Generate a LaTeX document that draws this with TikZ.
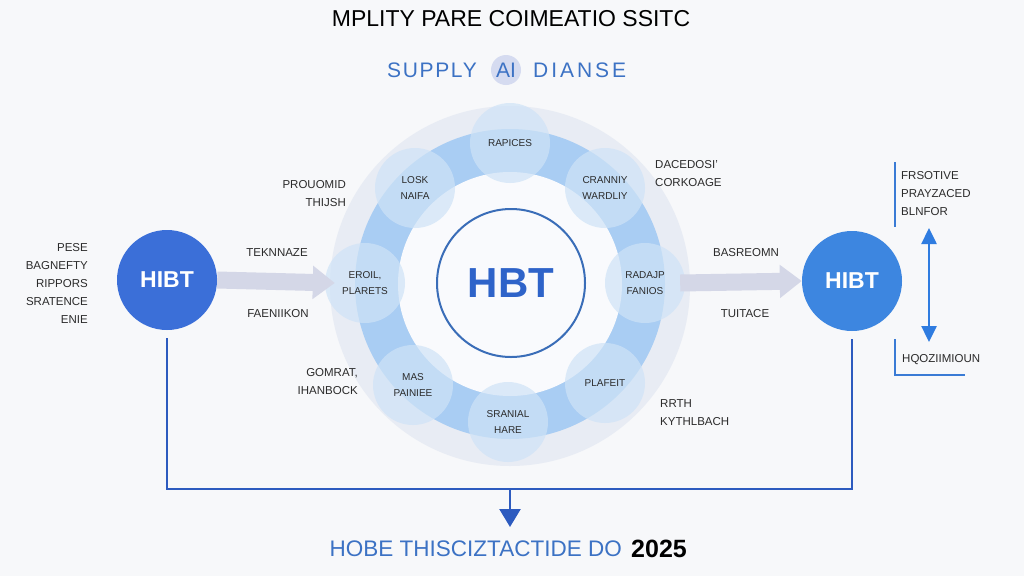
\documentclass[tikz,border=0pt]{standalone}
\usepackage{fontspec}
\setmainfont{Liberation Sans}
\usetikzlibrary{arrows.meta,calc}
\definecolor{bgc}{HTML}{F7F8FA}
\definecolor{haloc}{HTML}{E8ECF4}
\definecolor{ringc}{HTML}{A9CDF3}
\definecolor{innerc}{HTML}{F9FAFD}
\definecolor{smallc}{HTML}{CFE3F7}
\definecolor{labelc}{HTML}{2B2B2B}
\definecolor{subc}{HTML}{3C72C4}
\definecolor{aic}{HTML}{D5DBF0}
\definecolor{hbtc}{HTML}{2E63C9}
\definecolor{ringline}{HTML}{3A6DB8}
\definecolor{leftc}{HTML}{3B6FD8}
\definecolor{rightc}{HTML}{3D86E0}
\definecolor{arrowc}{HTML}{D4D7E7}
\definecolor{connc}{HTML}{2D5BBF}
\definecolor{sidec}{HTML}{3A7BD5}
\definecolor{dblc}{HTML}{2F7CE0}
\tikzset{
  lbl/.style={font=\fontsize{11.5}{18}\selectfont, text=labelc, align=left, inner sep=0pt},
  lblr/.style={lbl, align=right},
  smallcirc/.style={circle, minimum size=80pt, inner sep=0pt, fill=smallc, fill opacity=0.7, text opacity=1, text=labelc, font=\fontsize{10}{15.5}\selectfont, align=center},
  bigcirc/.style={circle, minimum size=100pt, inner sep=0pt, text=white, font=\fontsize{23}{26}\selectfont\bfseries},
  conn/.style={draw=connc, line width=2.5pt},
  fatarrow/.style={line width=17pt, draw=arrowc, -{Triangle[length=22pt,width=32pt]}},
  sideline/.style={draw=sidec, line width=2pt},
  subtxt/.style={inner sep=0pt, text=subc, font=\fontsize{21}{24}\selectfont\addfontfeatures{LetterSpace=8}},
}
\begin{document}
\begin{tikzpicture}[x=1pt,y=-1pt]
\fill[bgc] (0,0) rectangle (1024,576);
\useasboundingbox (0,0) rectangle (1024,576);

% titles
\node[font=\fontsize{23}{26}\selectfont, text=black] (title) at (511,19) {MPLITY PARE COIMEATIO SSITC};
\node[circle, fill=aic, minimum size=30pt, inner sep=0pt, text=subc, font=\fontsize{21}{24}\selectfont] (ai) at (506,70) {AI};
\node[subtxt, anchor=east] (supply) at (477,70) {SUPPLY};
\node[subtxt, anchor=west, font=\fontsize{21}{24}\selectfont\addfontfeatures{LetterSpace=14}] (dianse) at (533,70) {DIANSE};

% central structure
\fill[haloc] (510,286) circle[radius=180pt];
\fill[ringc] (510,284) circle[radius=155pt];
\fill[innerc] (510,284) circle[radius=112pt];
\node[circle, draw=ringline, line width=2pt, minimum size=148pt, inner sep=0pt, text=hbtc, font=\fontsize{42}{46}\selectfont\bfseries] (hbt) at (511,283) {HBT};

\node[smallcirc] (rapices) at (510,143) {RAPICES};
\node[smallcirc] (losk) at (415,188) {LOSK\\NAIFA};
\node[smallcirc] (crann) at (605,188) {CRANNIY\\WARDLIY};
\node[smallcirc] (eroil) at (365,283) {EROIL,\\PLARETS};
\node[smallcirc] (radajp) at (645,283) {RADAJP\\FANIOS};
\node[smallcirc] (mas) at (413,385) {MAS\\PAINIEE};
\node[smallcirc] (plafeit) at (605,383) {PLAFEIT};
\node[smallcirc] (sranial) at (508,422) {SRANIAL\\HARE};

% big circles
\node[bigcirc, fill=leftc] (hibtL) at (167,280) {HIBT};
\node[bigcirc, fill=rightc] (hibtR) at (852,281) {HIBT};

% fat arrows
\draw[fatarrow] (hibtL.east) -- ($(eroil.west)+(10,0)$);
\draw[fatarrow] ($(radajp.east)+(-5,0)$) -- (hibtR.west);

% labels
\node[lblr, anchor=east] (leftblk) at (88,283) {PESE\\BAGNEFTY\\RIPPORS\\SRATENCE\\ENIE};
\node[lblr, anchor=east] (prou) at (346,194) {PROUOMID\\THIJSH};
\node[lbl, anchor=west] (dace) at (655,174) {DACEDOSI'\\CORKOAGE};
\node[lblr, anchor=east] (gomr) at (358,382) {GOMRAT,\\IHANBOCK};
\node[lbl, anchor=west] (rrth) at (660,413) {RRTH\\KYTHLBACH};
\node[lbl] (tekn) at (277,253) {TEKNNAZE};
\node[lbl] (faen) at (278,314) {FAENIIKON};
\node[lbl] (basr) at (746,253) {BASREOMN};
\node[lbl] (tuit) at (745,314) {TUITACE};
\node[lbl, anchor=west] (frso) at (901,194) {FRSOTIVE\\PRAYZACED\\BLNFOR};
\node[lbl, anchor=west] (hqoz) at (902,360) {HQOZIIMIOUN};

% right side lines
\coordinate (s1) at (895,162);
\coordinate (s2) at (895,227);
\draw[sideline] (s1) -- (s2);
\coordinate (b1) at (895,339);
\coordinate (b2) at (895,375);
\coordinate (b3) at (965,375);
\draw[sideline] (b1) -- (b2) -- (b3);
\coordinate (d1) at (929,228);
\coordinate (d2) at (929,342);
\draw[draw=dblc, line width=2.5pt, {Triangle[length=16pt,width=15pt]}-{Triangle[length=16pt,width=15pt]}] (d1) -- (d2);

% bottom connector
\coordinate (bm) at (510,489);
\coordinate (bend) at (510,527);
\draw[conn, shorten <=8pt] (hibtL.south) |- (bm);
\draw[conn, shorten <=8pt] (hibtR.south) |- (bm);
\draw[conn, -{Triangle[length=18pt,width=21pt]}] (bm) -- (bend);

\node[inner sep=0pt, anchor=east, font=\fontsize{22.5}{26}\selectfont, text=subc] (bottom) at (622,549) {HOBE THISCIZTACTIDE DO};
\node[inner sep=0pt, anchor=west, font=\fontsize{25}{26}\selectfont\bfseries, text=black] (year) at (631,549) {2025};
\end{tikzpicture}
\end{document}
